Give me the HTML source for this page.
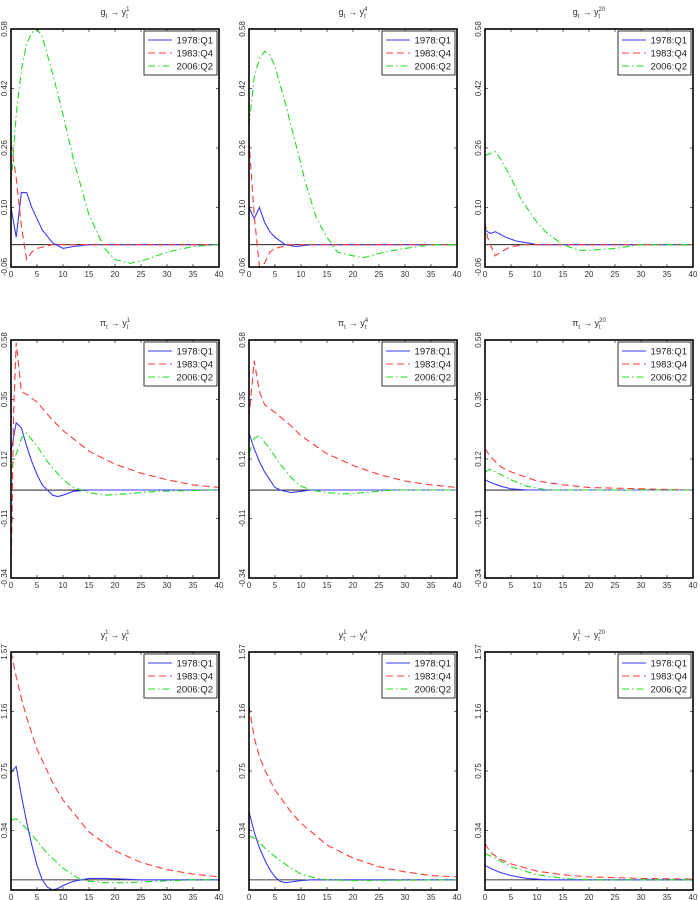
<!DOCTYPE html>
<html><head><meta charset="utf-8"><style>
html,body{margin:0;padding:0;background:#fff;}
svg{display:block;font-family:"Liberation Sans",sans-serif;}
</style></head><body>
<svg id="chart" width="700" height="900" viewBox="0 0 700 900"></svg>
<script>
const xTicks=[0,5,10,15,20,25,30,35,40];
const legendLabels=["1978:Q1","1983:Q4","2006:Q2"];
const rowYTicks=[[0.58,0.42,0.26,0.10,-0.06],[0.58,0.35,0.12,-0.11,-0.34],[1.57,1.16,0.75,0.34]];
const rowYTickLabels=[["0.58","0.42","0.26","0.10","-0.06"],["0.58","0.35","0.12","-0.11","-0.34"],["1.57","1.16","0.75","0.34"]];
const rowYMin=[-0.06,-0.34,-0.07];
const rowYMax=[0.58,0.58,1.57];
const titleShocks=["g","π","y"];
const titleMat=["1","4","20"];

// panel 1: g -> y1
const p1BlueX=[0,1,2,3,4,5,6,8,10,12,15,40];
const p1BlueY=[0.10,0.02,0.14,0.14,0.10,0.07,0.04,0.005,-0.01,-0.005,0,0];
const p1RedX=[0,1,2,3,4,5,8,40];
const p1RedY=[0.27,0.18,0.05,-0.04,-0.02,-0.01,0,0];
const p1GreenX=[0,1,2,3,4,5,6,8,10,12,15,18,20,23,26,30,35,40];
const p1GreenY=[0.16,0.35,0.47,0.54,0.57,0.58,0.56,0.46,0.35,0.23,0.08,-0.01,-0.04,-0.05,-0.04,-0.02,-0.005,0];
// panel 2: g -> y4
const p2BlueX=[0,1,2,3,4,5,7,9,12,40];
const p2BlueY=[0.10,0.07,0.10,0.06,0.035,0.02,0,-0.005,0,0];
const p2RedX=[0,1,2,3,4,5,8,40];
const p2RedY=[0.28,0.08,-0.06,-0.05,-0.02,-0.01,0,0];
const p2GreenX=[0,1,2,3,4,5,7,9,11,13,15,17,20,22,26,30,35,40];
const p2GreenY=[0.32,0.45,0.50,0.52,0.51,0.48,0.38,0.27,0.16,0.07,0.02,-0.02,-0.03,-0.035,-0.02,-0.01,0,0];
// panel 3: g -> y20
const p3BlueX=[0,1,2,4,6,8,10,40];
const p3BlueY=[0.04,0.03,0.035,0.02,0.01,0.005,0,0];
const p3RedX=[0,0.5,1,2,3,5,8,40];
const p3RedY=[0.06,0.02,0,-0.03,-0.02,-0.005,0,0];
const p3GreenX=[0,2,3,5,7,10,12,15,18,20,25,30,40];
const p3GreenY=[0.24,0.25,0.23,0.18,0.12,0.06,0.03,0,-0.015,-0.015,-0.01,0,0];
// panel 4: pi -> y1
const p4BlueX=[0,1,2,3,4,5,6,7,8,9,10,12,15,40];
const p4BlueY=[0.15,0.26,0.24,0.17,0.11,0.06,0.02,0,-0.02,-0.025,-0.02,-0.005,0,0];
const p4RedX=[0,0.5,1,2,3,5,8,10,15,20,25,30,35,40];
const p4RedY=[-0.34,0.30,0.57,0.38,0.37,0.34,0.27,0.23,0.15,0.10,0.065,0.04,0.02,0.01];
const p4GreenX=[0,1,2,3,5,7,10,12,15,18,22,28,40];
const p4GreenY=[0.08,0.14,0.20,0.22,0.17,0.11,0.04,0.01,-0.01,-0.02,-0.015,-0.005,0];
// panel 5: pi -> y4
const p5BlueX=[0,1,2,3,4,5,6,8,10,12,40];
const p5BlueY=[0.22,0.16,0.11,0.07,0.04,0.01,0,-0.01,-0.005,0,0];
const p5RedX=[0,1,2,3,5,8,10,15,20,25,30,35,40];
const p5RedY=[0.28,0.50,0.38,0.33,0.30,0.25,0.21,0.14,0.095,0.06,0.035,0.02,0.01];
const p5GreenX=[0,1,2,4,6,8,10,12,15,18,22,28,40];
const p5GreenY=[0.14,0.20,0.21,0.16,0.10,0.05,0.015,0,-0.01,-0.015,-0.01,0,0];
// panel 6: pi -> y20
const p6BlueX=[0,1,3,5,8,40];
const p6BlueY=[0.04,0.03,0.015,0.005,0,0];
const p6RedX=[0,1,3,5,10,15,20,30,40];
const p6RedY=[0.16,0.13,0.09,0.07,0.035,0.02,0.01,0.005,0];
const p6GreenX=[0,1,3,5,8,12,40];
const p6GreenY=[0.07,0.08,0.06,0.04,0.015,0,0];
// panel 7: y1 -> y1
const p7BlueX=[0,1,2,3,4,5,6,7,8,9,10,12,15,18,25,40];
const p7BlueY=[0.74,0.78,0.58,0.40,0.24,0.10,0,-0.05,-0.07,-0.06,-0.04,-0.01,0.01,0.01,0,0];
const p7RedX=[0,1,2,3,5,8,10,15,20,25,30,35,40];
const p7RedY=[1.57,1.40,1.25,1.12,0.90,0.67,0.55,0.33,0.20,0.12,0.07,0.04,0.02];
const p7GreenX=[0,1,2,3,5,7,10,13,15,18,22,28,35,40];
const p7GreenY=[0.41,0.42,0.39,0.35,0.27,0.18,0.08,0.01,-0.01,-0.02,-0.02,-0.01,0,0];
// panel 8: y1 -> y4
const p8BlueX=[0,1,2,3,4,5,6,7,8,10,12,40];
const p8BlueY=[0.47,0.33,0.22,0.14,0.07,0.02,-0.01,-0.02,-0.015,-0.005,0,0];
const p8RedX=[0,1,2,3,5,8,10,15,20,25,30,35,40];
const p8RedY=[1.20,0.98,0.85,0.76,0.62,0.47,0.39,0.24,0.15,0.09,0.055,0.03,0.02];
const p8GreenX=[0,1,2,3,5,8,10,13,15,20,40];
const p8GreenY=[0.30,0.29,0.26,0.22,0.16,0.08,0.04,0.01,0,-0.005,0];
// panel 9: y1 -> y20
const p9BlueX=[0,1,3,5,8,12,40];
const p9BlueY=[0.10,0.08,0.05,0.03,0.01,0,0];
const p9RedX=[0,1,3,5,10,15,20,30,40];
const p9RedY=[0.25,0.19,0.14,0.11,0.06,0.035,0.02,0.01,0.005];
const p9GreenX=[0,2,5,10,15,20,40];
const p9GreenY=[0.18,0.15,0.09,0.035,0.01,0,0];

const panels=[
 [[p1BlueX,p1BlueY],[p1RedX,p1RedY],[p1GreenX,p1GreenY]],
 [[p2BlueX,p2BlueY],[p2RedX,p2RedY],[p2GreenX,p2GreenY]],
 [[p3BlueX,p3BlueY],[p3RedX,p3RedY],[p3GreenX,p3GreenY]],
 [[p4BlueX,p4BlueY],[p4RedX,p4RedY],[p4GreenX,p4GreenY]],
 [[p5BlueX,p5BlueY],[p5RedX,p5RedY],[p5GreenX,p5GreenY]],
 [[p6BlueX,p6BlueY],[p6RedX,p6RedY],[p6GreenX,p6GreenY]],
 [[p7BlueX,p7BlueY],[p7RedX,p7RedY],[p7GreenX,p7GreenY]],
 [[p8BlueX,p8BlueY],[p8RedX,p8RedY],[p8GreenX,p8GreenY]],
 [[p9BlueX,p9BlueY],[p9RedX,p9RedY],[p9GreenX,p9GreenY]]
];

const NS="http://www.w3.org/2000/svg";
const svg=document.getElementById('chart');
function mk(tag,attrs,parent){const e=document.createElementNS(NS,tag);for(const k in attrs)e.setAttribute(k,attrs[k]);(parent||svg).appendChild(e);return e;}
const colLeft=[11,249,485], rowTop=[29,340,652], W=208, H=238;
const colors=["#3b3bff","#ff3b3b","#22dd22"];
const dashes=["none","7,4","7,3,1.5,3"];
const sNames=["series-1978q1","series-1983q4","series-2006q2"];

for(let p=0;p<9;p++){
  const r=Math.floor(p/3), c=p%3;
  const L=colLeft[c], T=rowTop[r];
  const g=mk('g',{});
  
  
  const xs=v=>L+v/40*W;
  const ys=v=>T+(rowYMax[r]-v)/(rowYMax[r]-rowYMin[r])*H;
  // title
  const t=mk('text',{x:L+W/2,y:T-14,'text-anchor':'middle','font-size':'9',fill:'#333'},g);
  
  
  let s1=mk('tspan',{},t); s1.textContent=titleShocks[r];
  if(r===2){let sp=mk('tspan',{'font-size':'6',dy:'-4'},t);sp.textContent='1';let sb=mk('tspan',{'font-size':'6',dx:'-3',dy:'7'},t);sb.textContent='t';}
  else{let sb=mk('tspan',{'font-size':'6',dy:'3'},t);sb.textContent='t';}
  let ar=mk('tspan',{dy:r===2?'-3':'-3',dx:'3'},t); ar.textContent='→ y';
  let sp2=mk('tspan',{'font-size':'6',dy:'-4'},t); sp2.textContent=titleMat[c];
  let sb2=mk('tspan',{'font-size':'6',dx:-(titleMat[c].length*3.4),dy:'7'},t); sb2.textContent='t';
  // zero line
  const z=mk('line',{x1:L,x2:L+W,y1:ys(0),y2:ys(0),stroke:'#000','stroke-width':'0.8'},g);
  
  
  // series
  panels[p].forEach((ser,i)=>{
    const pts=ser[0].map((x,k)=>xs(x).toFixed(1)+','+ys(ser[1][k]).toFixed(1)).join(' ');
    const pl=mk('polyline',{points:pts,fill:'none',stroke:colors[i],'stroke-width':'1.1','stroke-dasharray':dashes[i]},g);
    
    
  });
  // frame
  const fr=mk('rect',{x:L,y:T,width:W,height:H,fill:'none',stroke:'#000','stroke-width':'1.6'},g);
  
  
  // x ticks
  xTicks.forEach(v=>{
    mk('line',{x1:xs(v),x2:xs(v),y1:T+H,y2:T+H-3,stroke:'#000','stroke-width':'0.6'},g);
    mk('line',{x1:xs(v),x2:xs(v),y1:T,y2:T+3,stroke:'#000','stroke-width':'0.6'},g);
    const tl=mk('text',{x:xs(v),y:T+H+10,'text-anchor':'middle','font-size':'8',fill:'#333'},g);
    
    
    tl.textContent=v;
  });
  // y ticks
  rowYTicks[r].forEach((v,k)=>{
    mk('line',{x1:L,x2:L+3,y1:ys(v),y2:ys(v),stroke:'#000','stroke-width':'0.6'},g);
    mk('line',{x1:L+W,x2:L+W-3,y1:ys(v),y2:ys(v),stroke:'#000','stroke-width':'0.6'},g);
    const yy=ys(v), xx=L-4;
    const tl=mk('text',{x:xx,y:yy,'text-anchor':'middle','font-size':'8',fill:'#333',transform:`rotate(-90 ${xx} ${yy})`},g);
    
    
    tl.textContent=rowYTickLabels[r][k];
  });
  // legend
  const lg=mk('g',{},g);
  
  
  const lx=L+W-75, ly=T+2;
  mk('rect',{x:lx,y:ly,width:73,height:44,fill:'#fff',stroke:'#000','stroke-width':'0.8'},lg);
  legendLabels.forEach((lab,i)=>{
    const yy=ly+9+i*13;
    const ll=mk('line',{x1:lx+4,x2:lx+28,y1:yy,y2:yy,stroke:colors[i],'stroke-width':'1.1','stroke-dasharray':dashes[i]},lg);
    
    
    const lt=mk('text',{x:lx+69,y:yy+3.5,'text-anchor':'end','font-size':'9.5',fill:'#222'},lg);
    
    
    lt.textContent=lab;
  });
}
</script>
</body></html>
